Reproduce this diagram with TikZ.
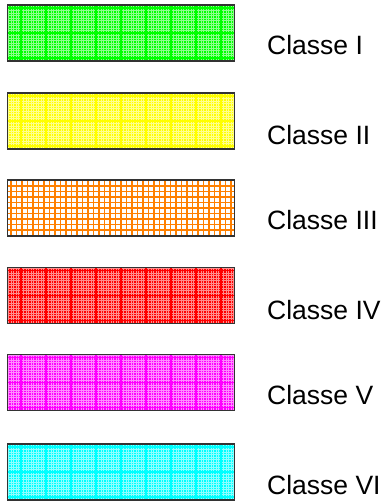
\documentclass[tikz,border=0pt]{standalone}
\usepackage{fontspec}
\setmainfont{Liberation Sans}
\usetikzlibrary{positioning}

\definecolor{clgreen}{RGB}{0,255,0}
\definecolor{clyellow}{RGB}{255,255,0}
\definecolor{clorange}{RGB}{255,128,0}
\definecolor{clred}{RGB}{255,0,0}
\definecolor{clmagenta}{RGB}{255,0,255}
\definecolor{clcyan}{RGB}{0,255,255}

\begin{document}
\begin{tikzpicture}[
x=1pt, y=-1pt,
classbox/.style={draw=black!80, line width=1.2pt, fill=#1, minimum width=227pt, minimum height=56pt, inner sep=0pt,
  path picture={
    \draw[#1!45!white, line width=0.4pt] (path picture bounding box.south west) grid[step=2.5pt] (path picture bounding box.north east);
    \draw[#1, line width=1.6pt] (path picture bounding box.south west) grid[step=25pt] (path picture bounding box.north east);
  }},
hatchbox/.style={draw=black!80, line width=1.2pt, fill=white, minimum width=227pt, minimum height=56pt, inner sep=0pt,
  path picture={
    \draw[#1, line width=1.3pt] (path picture bounding box.south west) grid[step=5.5pt] (path picture bounding box.north east);
  }},
classlabel/.style={anchor=base west, inner sep=0pt, font=\fontsize{26.5}{30}\selectfont}
]
\useasboundingbox (0,0) rectangle (387,502);

\node[classbox=clgreen] (C1) at (121,33) {};
\node[classbox=clyellow] (C2) at (121,121) {};
\node[hatchbox=clorange] (C3) at (121,208) {};
\node[classbox=clred] (C4) at (121,295.5) {};
\node[classbox=clmagenta] (C5) at (121,382.5) {};
\node[classbox=clcyan] (C6) at (121,472) {};

\node[classlabel] (L1) at (267,54.5) {Classe I};
\node[classlabel] (L2) at (267,144.5) {Classe II};
\node[classlabel] (L3) at (267,229.5) {Classe III};
\node[classlabel] (L4) at (267,319.5) {Classe IV};
\node[classlabel] (L5) at (267,404.5) {Classe V};
\node[classlabel] (L6) at (267,494.5) {Classe VI};

\end{tikzpicture}
\end{document}
